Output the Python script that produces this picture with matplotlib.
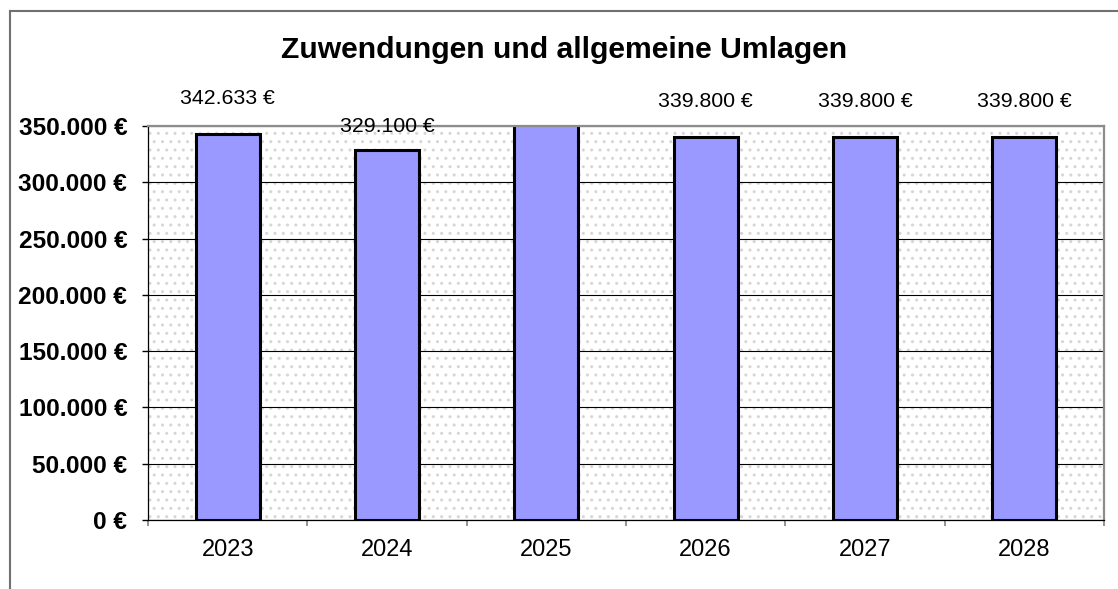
import matplotlib
matplotlib.use('Agg')
import matplotlib.pyplot as plt
from matplotlib.patches import Rectangle
from matplotlib.lines import Line2D
from matplotlib.ticker import FuncFormatter, FixedLocator

# Data
years = ['2023', '2024', '2025', '2026', '2027', '2028']
values = [342633, 329100, 375000, 339800, 339800, 339800]
y_ticks = [0, 50000, 100000, 150000, 200000, 250000, 300000, 350000]


def euro(v):
    return f"{v:,.0f}".replace(',', '.') + ' €'


def main():
    plt.rcParams['font.family'] = ['Liberation Sans', 'DejaVu Sans']

    fig = plt.figure(figsize=(11.18, 5.89), dpi=100)
    ax = fig.add_axes([148 / 1118, 69 / 589, 956 / 1118, 394 / 589])

    # dotted plot area background
    bg = Rectangle((0, 0), 1, 1, transform=ax.transAxes, facecolor='white',
                   edgecolor='#d6d6d6', linewidth=0, hatch='..', zorder=0.1)
    ax.add_patch(bg)

    x = list(range(len(years)))
    ax.bar(x, values, width=0.4, color='#9999ff', edgecolor='black',
           linewidth=2.2, zorder=2)

    ymax = 350000
    ax.set_ylim(0, ymax)
    ax.set_xlim(-0.5, len(years) - 0.5)

    # value labels (hidden if the bar runs above the axis)
    label_offsets = [26, 16.5, 26, 26, 26, 26]
    for xi, v, off in zip(x, values, label_offsets):
        if v > ymax:
            continue
        ax.annotate(euro(v), (xi, v), xytext=(0, off), textcoords='offset points',
                    ha='center', va='center', fontsize=15.3, annotation_clip=False)

    ax.set_yticks(y_ticks)
    ax.yaxis.set_major_formatter(FuncFormatter(lambda v, p: euro(v)))
    ax.tick_params(axis='y', direction='out', length=4.5, width=1, pad=10.5,
                   labelsize=17.6)
    for lab in ax.get_yticklabels():
        lab.set_fontweight('bold')

    ax.set_xticks(x)
    ax.set_xticklabels(years)
    ax.xaxis.set_minor_locator(FixedLocator([i - 0.5 for i in range(len(years) + 1)]))
    ax.tick_params(axis='x', which='major', length=0, pad=14, labelsize=17)
    ax.tick_params(axis='x', which='minor', direction='out', length=4.5,
                   width=1.2, color='#808080')

    ax.set_axisbelow(True)
    ax.yaxis.grid(True, color='black', linewidth=0.8)

    for side in ['top', 'right']:
        ax.spines[side].set_color('#8c8c8c')
        ax.spines[side].set_linewidth(1.6)
    for side in ['left', 'bottom']:
        ax.spines[side].set_color('black')
        ax.spines[side].set_linewidth(0.9)

    fig.text(564 / 1118, 1 - 50 / 589, 'Zuwendungen und allgemeine Umlagen',
             ha='center', va='center', fontsize=21.7, fontweight='bold')

    # outer chart frame (only top and left visible)
    W, H = 1118, 589
    fig.add_artist(Line2D([9.5 / W, 9.5 / W], [0, 1 - 11 / H],
                          transform=fig.transFigure, color='#707070', lw=1.5))
    fig.add_artist(Line2D([9.5 / W, 1], [1 - 11 / H, 1 - 11 / H],
                          transform=fig.transFigure, color='#707070', lw=1.5))

    fig.savefig('out.png', dpi=100)


if __name__ == "__main__":
    main()
